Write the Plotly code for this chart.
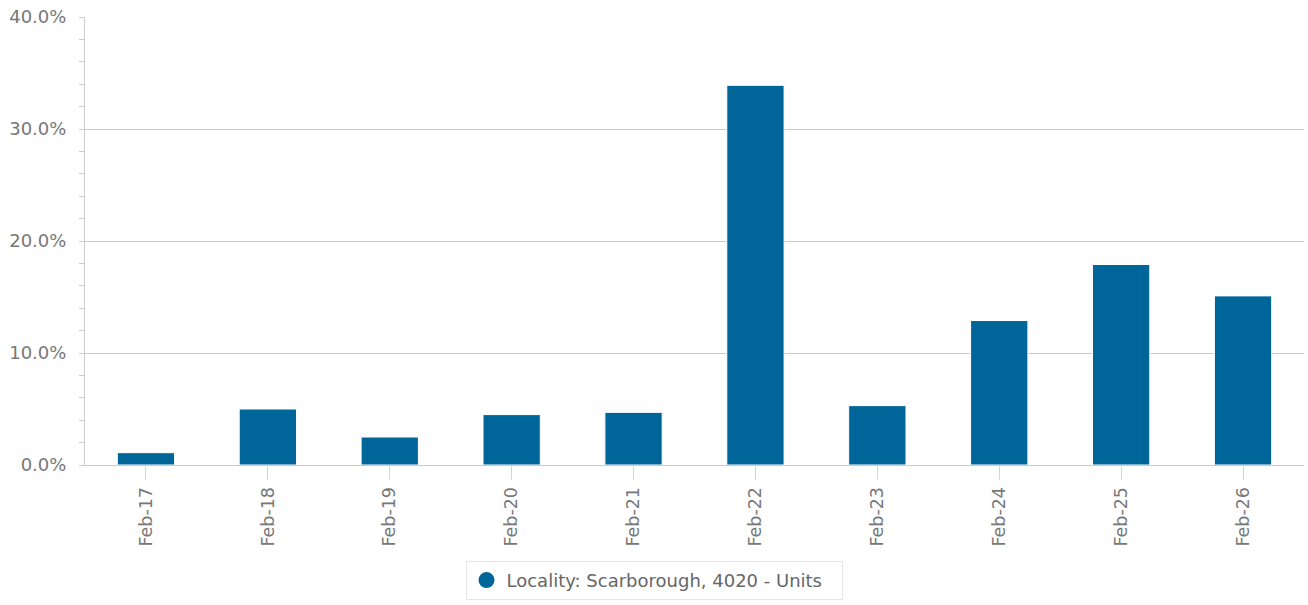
import plotly.graph_objects as go

# values (percent)
categories = ['Feb-17', 'Feb-18', 'Feb-19', 'Feb-20', 'Feb-21',
              'Feb-22', 'Feb-23', 'Feb-24', 'Feb-25', 'Feb-26']
growth_pct = [1.1, 5.0, 2.5, 4.5, 4.7, 33.9, 5.3, 12.9, 17.9, 15.1]
series_name = 'Locality: Scarborough, 4020 - Units'
y_ticks = [0, 10, 20, 30, 40]
y_tick_labels = [f'{v:.1f}%' for v in y_ticks]

BAR_COLOR = '#006699'
TICK_COLOR = '#777777'
LEGEND_COLOR = '#666666'
FONT = 'DejaVu Sans'

fig = go.Figure()

fig.add_trace(
    go.Bar(
        x=categories,
        y=growth_pct,
        name=series_name,
        marker=dict(color=BAR_COLOR, line=dict(color='white', width=1)),
        showlegend=False,
    )
)

# legend entry drawn with a round symbol
fig.add_trace(
    go.Scatter(
        x=[None], y=[None],
        mode='markers',
        name=series_name,
        marker=dict(color=BAR_COLOR, size=16, symbol='circle'),
    )
)

fig.update_xaxes(
    tickangle=-90,
    ticks='outside',
    ticklen=14,
    tickcolor='#ccd6eb',
    tickfont=dict(family=FONT, size=17.5, color=TICK_COLOR),
    showline=True,
    linecolor='#cccccc',
    showgrid=False,
    automargin=False,
)

fig.update_yaxes(
    range=[0, 40],
    tickvals=y_ticks,
    ticktext=y_tick_labels,
    ticks='outside',
    ticklen=5,
    tickcolor='#cccccc',
    ticklabelstandoff=9,
    minor=dict(dtick=2, ticks='outside', ticklen=5, tickcolor='#cccccc', showgrid=False),
    tickfont=dict(family=FONT, size=18, color=TICK_COLOR),
    showline=True,
    linecolor='#cccccc',
    gridcolor='#cccccc',
    zeroline=False,
    automargin=False,
)

fig.update_layout(
    width=1308,
    height=605,
    margin=dict(l=85, r=4, t=17, b=140),
    plot_bgcolor='white',
    paper_bgcolor='white',
    bargap=0.53,
    font=dict(family=FONT, color=TICK_COLOR),
    legend=dict(
        orientation='h',
        xref='container', x=0.5, xanchor='center',
        yref='container', y=0.073, yanchor='top',
        bordercolor='#e6e6e6', borderwidth=1,
        font=dict(family=FONT, size=18, color=LEGEND_COLOR),
        itemwidth=30,
        entrywidth=330,
    ),
)

fig.write_html("out.html", config={'displayModeBar': False},
               post_script="document.body.style.margin='0';")
